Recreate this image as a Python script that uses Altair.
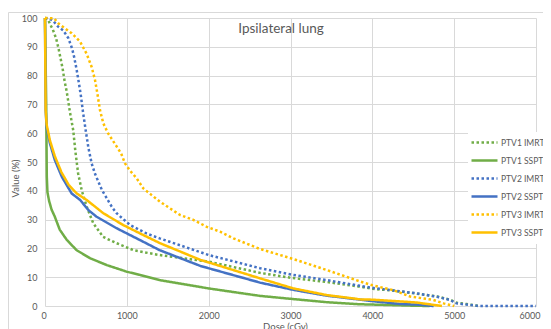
import altair as alt
import pandas as pd

TITLE = "Ipsilateral lung"
SERIES = ["PTV1 IMRT", "PTV1 SSPT", "PTV2 IMRT", "PTV2 SSPT", "PTV3 IMRT", "PTV3 SSPT"]
COLORS = ["#70ad47", "#70ad47", "#4472c4", "#4472c4", "#ffc000", "#ffc000"]
DASHES = [[2.5, 2.5], [1, 0], [2.5, 2.5], [1, 0], [2.5, 2.5], [1, 0]]
X_TICKS = [0, 1000, 2000, 3000, 4000, 5000, 6000]
Y_TICKS = [0, 10, 20, 30, 40, 50, 60, 70, 80, 90, 100]

ptv1_imrt_dose = [0, 35, 60, 95, 135, 165, 190, 215, 240, 265, 290, 310, 345, 370, 405, 450, 510, 530, 590, 710, 875, 1080, 1280, 1400, 2000, 2630, 3000, 3450, 3850, 4000, 4260, 4540, 4790, 4950, 5030, 5150, 5300]
ptv1_imrt_val = [100, 99.6, 98, 96, 93, 89.5, 86, 82.5, 78, 74.5, 70, 66.5, 61, 54, 46, 40, 34.5, 33, 28.7, 24, 21.8, 19.4, 18.3, 17.7, 15.4, 11.5, 9.8, 8.3, 6.7, 6.0, 5.3, 4.3, 3.3, 2.2, 1.1, 0.7, 0]

ptv1_sspt_dose = [0, 15, 22, 30, 50, 80, 120, 180, 265, 385, 550, 755, 1000, 1160, 1400, 2000, 2630, 3000, 3450, 3850, 4000, 4500, 4700]
ptv1_sspt_val = [100, 70, 45, 39.5, 36.5, 33.5, 31, 26.5, 23, 19.4, 16.6, 14.2, 11.9, 10.8, 9.0, 6.1, 3.5, 2.5, 1.3, 0.6, 0.5, 0.1, 0]

ptv2_imrt_dose = [0, 60, 100, 160, 225, 285, 330, 355, 387, 415, 440, 466, 500, 530, 570, 610, 695, 815, 875, 1040, 1240, 1400, 2000, 2630, 3035, 3440, 3850, 4000, 4260, 4540, 4790, 4950, 5030, 5150, 5300, 6000]
ptv2_imrt_val = [100, 99.7, 99, 97, 95.6, 93, 89.5, 86.6, 82, 77.3, 72.7, 67, 60.5, 55, 49.5, 46, 40.3, 34.5, 32.2, 28.1, 25.2, 23.5, 17.7, 13.1, 10.8, 9.0, 7.0, 6.3, 5.4, 4.4, 3.2, 2.1, 0.9, 0.5, 0, 0]

ptv2_sspt_dose = [0, 8, 20, 60, 120, 205, 325, 430, 530, 630, 875, 1160, 1400, 1900, 2630, 3035, 3440, 3850, 4000, 4340, 4540, 4750]
ptv2_sspt_val = [100, 68, 62, 56.5, 50.7, 44.9, 39.1, 36.8, 33.3, 31, 27, 22.9, 19.4, 13.9, 8.1, 5.6, 3.6, 2.2, 1.7, 0.7, 0.5, 0]

ptv3_imrt_dose = [0, 110, 165, 245, 326, 428, 510, 570, 611, 640, 672, 713, 770, 850, 930, 978, 1039, 1121, 1202, 1304, 1406, 1528, 1650, 1813, 1977, 2139, 2302, 2628, 3035, 3443, 3851, 4000, 4258, 4462, 4747, 4870, 5000]
ptv3_imrt_val = [100, 99.9, 98.1, 96.4, 94.7, 91.8, 87.5, 83, 78.5, 73.8, 68, 63.4, 60, 56.5, 53, 49.5, 47, 44.3, 40.8, 38.5, 36.2, 33.9, 31.6, 29.9, 27.5, 25.8, 23.5, 19.8, 16.3, 12.5, 8.5, 7.2, 5.5, 3.3, 2.1, 0.9, 0]

ptv3_sspt_dose = [0, 8, 20, 60, 120, 200, 290, 387, 510, 713, 957, 1161, 1406, 1900, 2628, 3035, 3443, 3851, 4000, 4340, 4544, 4850]
ptv3_sspt_val = [100, 68, 63, 57.5, 52, 46.5, 42, 39.1, 36.8, 32.2, 28.1, 25.2, 21.8, 16, 9.6, 6.1, 3.8, 2.3, 2.2, 1.6, 1.2, 0]

doses = [ptv1_imrt_dose, ptv1_sspt_dose, ptv2_imrt_dose, ptv2_sspt_dose, ptv3_imrt_dose, ptv3_sspt_dose]
vals = [ptv1_imrt_val, ptv1_sspt_val, ptv2_imrt_val, ptv2_sspt_val, ptv3_imrt_val, ptv3_sspt_val]

rows = []
for s, d, v in zip(SERIES, doses, vals):
    for i, (a, b) in enumerate(zip(d, v)):
        rows.append({"series": s, "dose": a, "value": b, "i": i})
df = pd.DataFrame(rows)

FONT = "Lato"
GRAY = "#595959"
W, H = 491, 288

legend_opts = dict(title=None, orient="none", legendX=423, legendY=114,
                   symbolType="stroke", symbolSize=676, symbolStrokeWidth=2.5,
                   rowPadding=0, clipHeight=17.2, fillColor="white", padding=2,
                   labelFont=FONT, labelFontSize=8.5, labelColor=GRAY, labelOffset=2)

lines = alt.Chart(df).mark_line(strokeWidth=2.5, strokeCap="butt", clip=False).encode(
    x=alt.X("dose:Q", scale=alt.Scale(domain=[0, 6000], nice=False),
            axis=alt.Axis(values=X_TICKS, format="d", title="Dose (cGy)", titleX=240, titleY=15,
                          titleBaseline="top", labelPadding=5,
                          labelFlush=True, labelFlushOffset=4)),
    y=alt.Y("value:Q", scale=alt.Scale(domain=[0, 100], nice=False),
            axis=alt.Axis(values=Y_TICKS, title="Value (%)", titleX=-30, titleY=160,
                          titleBaseline="middle", labelPadding=8, labelFlush=False)),
    color=alt.Color("series:N", scale=alt.Scale(domain=SERIES, range=COLORS),
                    legend=alt.Legend(**legend_opts)),
    strokeDash=alt.StrokeDash("series:N", scale=alt.Scale(domain=SERIES, range=DASHES),
                              legend=alt.Legend(**legend_opts)),
    order="i:Q",
)

title = alt.Chart(pd.DataFrame({"t": [TITLE]})).mark_text(
    font=FONT, fontSize=13.5, color=GRAY, align="center", baseline="middle"
).encode(text="t:N", x=alt.value(236), y=alt.value(11))

border = alt.Chart(pd.DataFrame({"k": [0]})).mark_rect(
    fill=None, stroke="#d9d9d9", strokeWidth=1
).encode(x=alt.value(-36.5), x2=alt.value(W + 80), y=alt.value(-5.5), y2=alt.value(H + 80))

chart = alt.layer(border, lines, title).properties(
    width=W, height=H,
    autosize=alt.AutoSizeParams(type="none"),
    padding={"left": 37, "top": 10, "right": 7, "bottom": 25},
).configure_view(stroke=None).configure_axis(
    grid=True, gridColor="#d9d9d9", gridWidth=1, domain=False, ticks=False,
    labelFont=FONT, labelFontSize=9, labelColor=GRAY,
    titleFont=FONT, titleFontSize=9.5, titleColor=GRAY, titleFontWeight="normal",
)

chart.save("out.html", embed_options={"renderer": "svg", "actions": False})
